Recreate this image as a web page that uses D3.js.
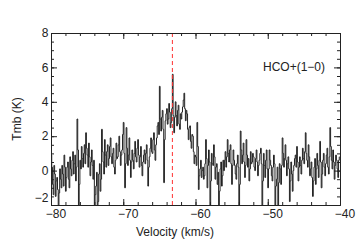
<!DOCTYPE html>
<html>
<head>
<meta charset="utf-8">
<script src="https://cdn.jsdelivr.net/npm/d3@7/dist/d3.min.js"></script>
<style>
  body { margin: 0; background: #fff; }
  svg text { font-family: "Liberation Sans", Arial, sans-serif; fill: #222; }
</style>
</head>
<body>
<svg id="chart" width="360" height="249"></svg>
<script>
// spectrum: channel grid (start velocity, channel width in km/s)
var v0 = -80, dv = 0.1;
// brightness temperature per channel (K), one row per km/s
var tmb = [
  0.9, 0.2, -0.8, -1.4, 0.3, -0.2, -1.5, -0.6, -0.4, -1.1,
  -2.2, -1.3, 0.1, -0.5, -1.0, 0.3, -0.2, -0.9, 0.9, 0.2,
  -1.2, -0.4, 0.2, 0.5, -0.5, -1.0, 0.8, 0.1, -0.3, 0.6,
  1.1, -0.2, 0.4, 0.9, -0.6, 0.2, 3.0, 1.2, -2.4, -0.8,
  0.6, 0.1, 1.4, 0.7, 0.2, 1.0, 1.5, 0.4, 2.2, 1.3,
  0.9, 0.2, 1.6, 0.8, -0.3, 0.5, 1.2, 0.3, -0.5, 0.6,
  -2.3, -1.4, -0.9, -0.1, -2.6, -1.8, -0.2, 0.4, -1.2, -0.5,
  2.4, 1.1, 0.5, -0.2, 1.8, 0.9, 0.2, 1.1, 1.5, 0.3,
  0.7, 1.4, 1.9, 0.8, 0.4, 1.0, 1.3, 0.2, -0.2, 0.6,
  1.6, 0.7, 0.8, 1.5, 2.0, 1.1, 0.3, 0.9, 1.2, 2.1,
  2.8, 1.0, -1.0, 0.4, 2.5, 1.3, 0.3, 0.9, 1.9, 0.6,
  -0.4, 0.5, 1.2, 0.6, 0.1, 1.0, 1.7, 0.8, 0.5, 1.3,
  1.8, 0.9, 0.2, 0.8, 1.4, 0.3, -0.3, 0.5, 0.9, 1.2,
  0.4, 1.0, 1.5, 0.6, -0.9, 0.2, 0.8, 1.3, 1.9, 1.1,
  1.0, 1.8, 2.2, 1.2, 0.6, 1.5, 1.9, 2.6, 2.8, 2.1,
  4.9, 3.0, 2.3, 3.1, 3.5, 2.4, -0.7, 1.8, 2.9, 3.3,
  3.6, 2.7, 3.0, 3.9, 3.4, 2.5, 2.8, 3.6, 5.6, 3.2,
  2.2, 3.1, 4.0, 3.2, 2.6, 3.5, 3.8, 2.7, 2.4, 3.3,
  3.0, 3.4, 3.7, 4.1, 4.5, 3.6, 2.9, 3.5, 3.3, 2.4,
  1.8, 2.5, 2.6, 1.7, 1.3, 2.1, 2.0, 1.1, 0.4, 0.9,
  0.8, 0.3, 2.8, 1.4, -1.1, -0.3, 0.1, 0.6, -0.4, 0.0,
  0.2, -0.5, -0.3, 0.4, 1.8, 0.7, -1.0, 0.3, 1.2, 0.5,
  -2.1, -0.6, 1.0, 0.4, 0.3, 1.5, 0.8, -0.5, 0.2, 0.4,
  -0.8, -0.1, -2.4, -1.2, 0.1, 0.5, -0.9, -0.3, 0.6, 0.0,
  0.6, 1.1, 0.2, 0.8, 1.8, 1.0, 0.5, 1.2, 1.5, 0.4,
  -0.8, 0.3, 1.2, 0.6, 0.3, -0.2, -0.5, 0.4, 0.9, 0.2,
  -2.3, -0.8, 2.3, 1.2, 0.4, 0.9, 1.6, 0.5, -0.4, 0.3,
  1.8, 0.9, 0.2, 0.7, -0.6, 0.1, 1.1, 0.4, 0.5, 1.0,
  0.8, 0.2, 0.0, 0.7, 1.2, 0.5, -0.3, 0.3, 0.6, 1.0,
  1.3, 0.4, -2.2, -0.6, 1.0, 0.3, -0.4, 0.6, 1.2, 0.1,
  -1.0, 0.1, 1.2, 0.6, 0.3, -0.3, -0.6, 0.2, 0.9, 0.4,
  -2.3, -0.9, -0.5, 0.2, -2.1, -0.7, 0.4, 0.1, -0.8, 0.3,
  1.9, 1.0, 0.2, 0.7, 1.5, 0.6, -0.3, 0.4, 0.8, 0.1,
  -1.8, -0.6, 0.5, -0.2, -1.2, 0.0, 0.3, 0.7, 0.9, 0.2,
  1.4, 0.5, -0.6, 0.2, 0.8, 0.3, -0.2, 0.6, 1.3, 0.7,
  0.4, 1.1, 2.2, 1.0, 0.6, 0.2, 1.5, 0.8, -0.3, 0.1,
  0.5, -0.4, -1.5, -0.6, 0.2, 0.7, -0.8, 0.1, 1.0, 0.3,
  -0.4, 0.6, 1.7, 0.5, -1.0, -0.2, 0.6, 1.0, 0.2, -0.3,
  0.4, 0.9, 1.3, 0.2, -0.2, 0.8, 2.5, 1.4, 0.6, 0.1,
  1.2, 0.5, -0.5, 0.3, 0.9, 0.6, 0.1, -0.4, 0.6, 0.8
];
var vlsr = -63.2;            // systemic velocity marker
var lineLabel = "HCO+(1\u22120)";
var xTicks = [-80, -70, -60, -50, -40];
var yTicks = [-2, 0, 2, 4, 6, 8];

var svg = d3.select("#chart");
var plotL = 51, plotR = 340, plotT = 33, plotB = 205;

var x = d3.scaleLinear().domain([-80, -40]).range([plotL, plotR]);
var y = d3.scaleLinear().domain([-2, 8]).range([plotB, plotT]);

// clip so the noise dips stop at the frame
svg.append("clipPath").attr("id", "clip")
  .append("rect")
  .attr("x", plotL).attr("y", plotT)
  .attr("width", plotR - plotL).attr("height", plotB - plotT);

var points = tmb.map(function(t, i) { return [v0 + dv * i + dv / 2, t]; });

var line = d3.line()
  .x(function(d) { return x(d[0]); })
  .y(function(d) { return y(d[1]); })
  .curve(d3.curveStep);

svg.append("path")
  .datum(points)
  .attr("clip-path", "url(#clip)")
  .attr("fill", "none")
  .attr("stroke", "#222")
  .attr("stroke-width", 1)
  .attr("d", line);

// red dashed velocity marker
svg.append("line")
  .attr("x1", x(vlsr)).attr("x2", x(vlsr))
  .attr("y1", plotT).attr("y2", plotB)
  .attr("stroke", "#ff3030")
  .attr("stroke-width", 1)
  .attr("stroke-dasharray", "4,3");

// axes with inward ticks on all four sides
var xMinor = d3.range(-80, -39, 2);
var yMinor = d3.range(-2, 8.01, 0.5);

function addAxis(axis, tx, ty) {
  var g = svg.append("g").attr("transform", "translate(" + tx + "," + ty + ")").call(axis);
  g.selectAll("text").remove();
  g.select(".domain").attr("stroke", "#222");
  g.selectAll(".tick line").attr("stroke", "#222");
  return g;
}

addAxis(d3.axisBottom(x).tickValues(xMinor).tickSize(-3).tickSizeOuter(0), 0, plotB);
addAxis(d3.axisBottom(x).tickValues(xTicks).tickSize(-6).tickSizeOuter(0), 0, plotB);
addAxis(d3.axisTop(x).tickValues(xMinor).tickSize(-3).tickSizeOuter(0), 0, plotT);
addAxis(d3.axisTop(x).tickValues(xTicks).tickSize(-6).tickSizeOuter(0), 0, plotT);
addAxis(d3.axisLeft(y).tickValues(yMinor).tickSize(-3).tickSizeOuter(0), plotL, 0);
addAxis(d3.axisLeft(y).tickValues(yTicks).tickSize(-6).tickSizeOuter(0), plotL, 0);
addAxis(d3.axisRight(y).tickValues(yMinor).tickSize(-3).tickSizeOuter(0), plotR, 0);
addAxis(d3.axisRight(y).tickValues(yTicks).tickSize(-6).tickSizeOuter(0), plotR, 0);

// tick labels
svg.selectAll(".xlab").data(xTicks).enter().append("text")
  .attr("x", function(d) { return x(d) + 5; })
  .attr("y", 218)
  .attr("text-anchor", "middle")
  .attr("font-size", 12)
  .text(function(d) { return d < 0 ? "\u2212" + Math.abs(d) : d; });

svg.selectAll(".ylab").data(yTicks).enter().append("text")
  .attr("x", 48.5)
  .attr("y", function(d) { return d === -2 ? y(d) - 7 : y(d); })
  .attr("dy", "0.35em")
  .attr("text-anchor", "end")
  .attr("font-size", 12)
  .text(function(d) { return d < 0 ? "\u2212" + Math.abs(d) : d; });

// axis titles
svg.append("text")
  .attr("x", 175).attr("y", 236)
  .attr("text-anchor", "middle")
  .attr("font-size", 12)
  .text("Velocity (km/s)");

svg.append("text")
  .attr("transform", "translate(21,119) rotate(-90)")
  .attr("text-anchor", "middle")
  .attr("font-size", 12)
  .text("Tmb (K)");

svg.append("text")
  .attr("x", 325).attr("y", 71)
  .attr("text-anchor", "end")
  .attr("font-size", 12)
  .text(lineLabel);
</script>
</body>
</html>
